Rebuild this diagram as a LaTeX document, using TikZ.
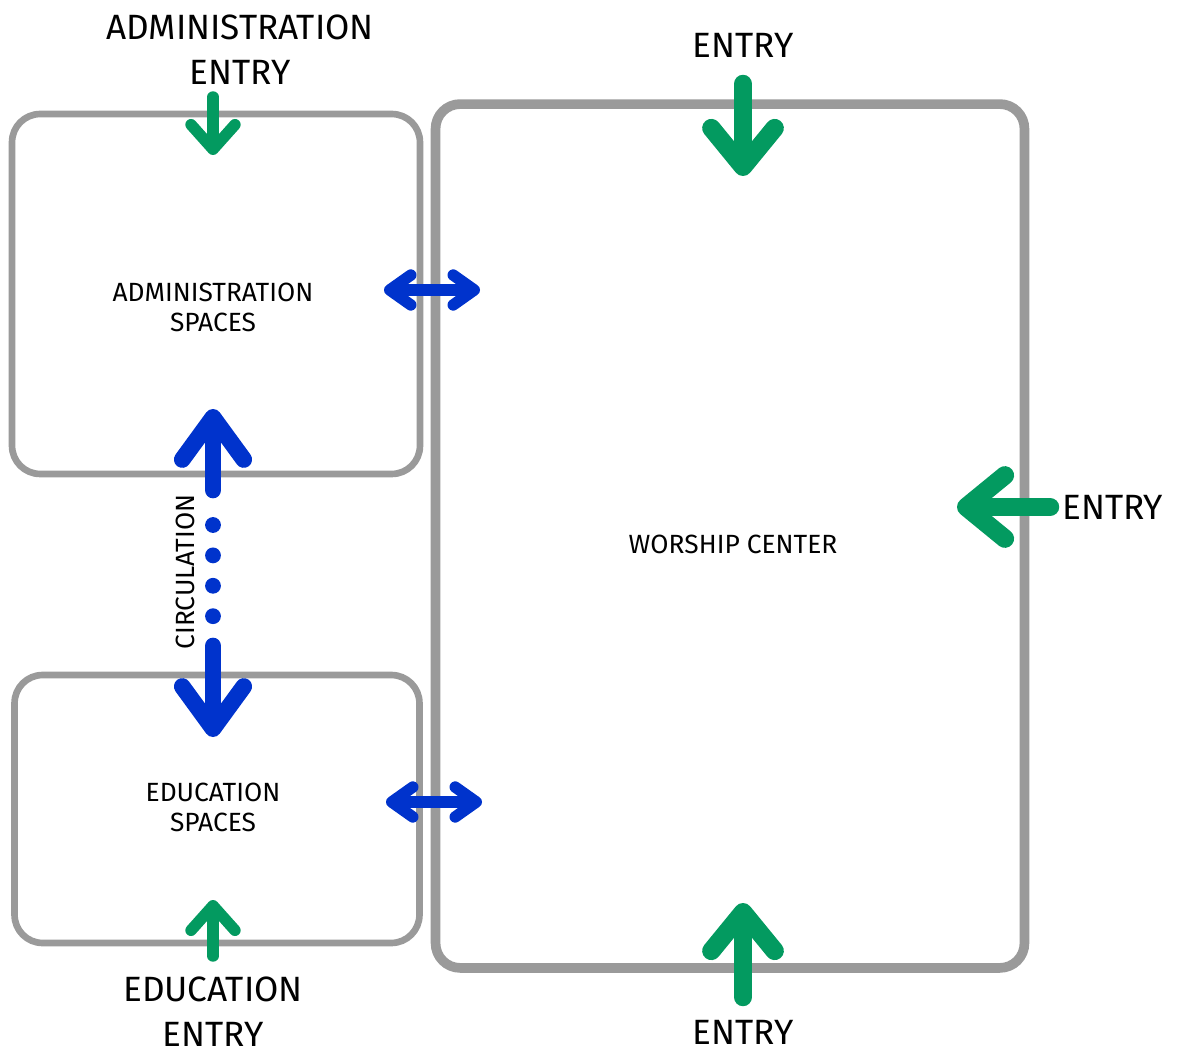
\documentclass[tikz,border=0pt]{standalone}
\usepackage{fontspec}
\setmainfont{Fira Sans}
\usetikzlibrary{arrows.meta, positioning}
\definecolor{wallgray}{RGB}{154,154,154}
\definecolor{entrygreen}{RGB}{3,154,96}
\definecolor{linkblue}{RGB}{0,51,204}
\tikzset{
    wallS/.style={draw=wallgray, line width=3.8pt, rounded corners=16pt},
    wallW/.style={draw=wallgray, line width=5.5pt, rounded corners=14pt},
    tagS/.style={align=center, inner sep=0pt, font=\fontsize{15}{17}\selectfont},
    tagT/.style={align=center, inner sep=0pt, font=\fontsize{20}{25.5}\selectfont},
    entryG/.style={draw=entrygreen, line width=10.5pt, line cap=round,
        -{Straight Barb[round,length=22pt,width=36pt]}},
    entryGs/.style={draw=entrygreen, line width=6.5pt, line cap=round,
        -{Straight Barb[round,length=14pt,width=25pt]}},
    linkB/.style={draw=linkblue, line width=6.5pt, line cap=round,
        {Straight Barb[round,length=12pt,width=17pt]}-{Straight Barb[round,length=12pt,width=17pt]}},
    circB/.style={draw=linkblue, line width=9.5pt, line cap=round,
        -{Straight Barb[round,length=24pt,width=35pt]}},
    dotB/.style={draw=linkblue, line width=9pt, line cap=round, dash pattern=on 0pt off 17.3pt}
}

\begin{document}
\begin{tikzpicture}[x=0.02cm, y=-0.02cm]
    \useasboundingbox (0,0) rectangle (1180,1057);
    % rooms
    \node[wallS, minimum width=8.16cm, minimum height=7.2cm] (admin) at (216,294) {};
    \node[wallS, minimum width=8.1cm, minimum height=5.36cm] (edu) at (217,809) {};
    \node[wallW, minimum width=11.78cm, minimum height=17.28cm] (worship) at (730,536) {};
    \node[tagS] (adminT) at (213,307) {ADMINISTRATION\\SPACES};
    \node[tagS] (eduT) at (213,807) {EDUCATION\\SPACES};
    \node[tagS] (worshipT) at (733,544) {WORSHIP CENTER};
    % entries
    \node[tagT] (adminE) at (240,50) {ADMINISTRATION\\ENTRY};
    \node[tagT] (eduE) at (213,1012) {EDUCATION\\ENTRY};
    \node[tagT] (topE) at (743,45) {ENTRY};
    \node[tagT, anchor=west] (rightE) at (1062,507) {ENTRY};
    \node[tagT] (bottomE) at (743,1032) {ENTRY};
    \coordinate (adminS) at (213,97);   \coordinate (adminD) at (213,155);
    \coordinate (eduS) at (213,956);    \coordinate (eduD) at (213,900);
    \coordinate (topS) at (743,84);     \coordinate (topD) at (743,176);
    \coordinate (rightS) at (1050,507); \coordinate (rightD) at (957,507);
    \coordinate (bottomS) at (743,997); \coordinate (bottomD) at (743,903);
    \draw[entryGs] (adminS) -- (adminD);
    \draw[entryGs] (eduS) -- (eduD);
    \draw[entryG] (topS) -- (topD);
    \draw[entryG] (rightS) -- (rightD);
    \draw[entryG] (bottomS) -- (bottomD);
    % links
    \coordinate (a1) at (384,290); \coordinate (a2) at (480,290);
    \coordinate (e1) at (386,802); \coordinate (e2) at (482,802);
    \draw[linkB] (a1) -- (a2);
    \draw[linkB] (e1) -- (e2);
    % circulation
    \coordinate (c1) at (213,490); \coordinate (c2) at (213,409);
    \coordinate (c3) at (213,646); \coordinate (c4) at (213,737);
    \coordinate (d1) at (213,525); \coordinate (d2) at (213,617);
    \draw[circB] (c1) -- (c2);
    \draw[circB] (c3) -- (c4);
    \draw[dotB] (d1) -- (d2);
    \node[tagS, rotate=90] (circT) at (185,572) {CIRCULATION};
\end{tikzpicture}
\end{document}
